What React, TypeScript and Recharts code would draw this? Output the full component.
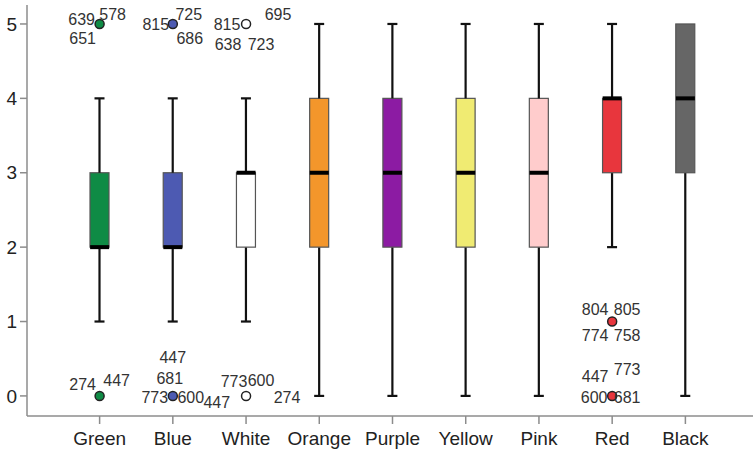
import { ComposedChart, Bar, Scatter, XAxis, YAxis } from 'recharts';

const categories = ['Green', 'Blue', 'White', 'Orange', 'Purple', 'Yellow', 'Pink', 'Red', 'Black'];
const mins = [1, 1, 1, 0, 0, 0, 0, 2, 0];
const q1s = [2, 2, 2, 2, 2, 2, 2, 3, 3];
const medians = [2, 2, 3, 3, 3, 3, 3, 4, 4];
const q3s = [3, 3, 3, 4, 4, 4, 4, 4, 5];
const maxes = [4, 4, 4, 5, 5, 5, 5, 5, 5];
const upperOutliers: (number | null)[] = [5, 5, 5, null, null, null, null, 1, null];
const lowerOutliers: (number | null)[] = [0, 0, 0, null, null, null, null, 0, null];
const upperCaseIds: string[][] = [
    ['639', '578', '651'],
    ['815', '725', '686'],
    ['815', '695', '638', '723'],
    [], [], [], [],
    ['804', '805', '774', '758'],
    [],
];
const lowerCaseIds: string[][] = [
    ['274', '447'],
    ['447', '681', '773', '600', '447'],
    ['773', '600', '274'],
    [], [], [], [],
    ['447', '773', '600', '681'],
    [],
];
const yTicks = [0, 1, 2, 3, 4, 5];

const boxColors = ['#0f8b45', '#4d5ab2', '#ffffff', '#f3962b', '#8c1ba3', '#f0eb72', '#ffcccc', '#e8363d', '#666666'];

// where each case label sits relative to its point (dx, dy), same order as the ids
const upperLabelPos: number[][][] = [
    [[-18, -5], [13, -10], [-17, 14]],
    [[-17, 0], [16, -10], [17, 14]],
    [[-19, 0], [32, -10], [-18, 20], [15, 20]],
    [], [], [], [],
    [[-17, -12], [15, -12], [-17, 14], [15, 14]],
    [],
];
const lowerLabelPos: number[][][] = [
    [[-17, -12], [17, -16]],
    [[0, -39], [-3, -18], [-18, 1], [18, 1], [44, 6]],
    [[-12, -15], [15, -16], [41, 1]],
    [], [], [], [],
    [[-17, -20], [15, -27], [-18, 1], [15, 1]],
    [],
];

const FONT = '"Liberation Sans", Arial, sans-serif';
const BOX_W = 19;

const rows = categories.map((name, i) => ({
    name,
    idx: i,
    base: mins[i],
    lowWhisker: q1s[i] - mins[i],
    box: q3s[i] - q1s[i],
    highWhisker: maxes[i] - q3s[i],
    median: medians[i],
    upper: upperOutliers[i],
    lower: lowerOutliers[i],
}));

const LowWhisker = (props: any) => {
    const { x, y, width, height } = props;
    if (!height || height <= 0) return <g />;
    const cx = x + width / 2;
    return (
        <g>
            <line x1={cx} y1={y} x2={cx} y2={y + height} stroke="#111" strokeWidth={2.2} />
            <line x1={cx - 5} y1={y + height} x2={cx + 5} y2={y + height} stroke="#111" strokeWidth={2.2} />
        </g>
    );
};

const HighWhisker = (props: any) => {
    const { x, y, width, height } = props;
    if (!height || height <= 0) return <g />;
    const cx = x + width / 2;
    return (
        <g>
            <line x1={cx} y1={y} x2={cx} y2={y + height} stroke="#111" strokeWidth={2.2} />
            <line x1={cx - 5} y1={y} x2={cx + 5} y2={y} stroke="#111" strokeWidth={2.2} />
        </g>
    );
};

const BoxShape = (props: any) => {
    const { x, y, width, height, payload } = props;
    if (!height || height <= 0) return <g />;
    return (
        <rect x={x} y={y} width={width} height={height} fill={boxColors[payload.idx]} stroke="#555" strokeWidth={1.2} />
    );
};

const MedianMark = (props: any) => {
    const { cx, cy } = props;
    if (cx == null || cy == null) return <g />;
    return <line x1={cx - BOX_W / 2} y1={cy} x2={cx + BOX_W / 2} y2={cy} stroke="#000" strokeWidth={4} />;
};

const makeOutlier = (key: 'upper' | 'lower', ids: string[][], pos: number[][][]) => (props: any) => {
    const { cx, cy, payload } = props;
    if (cx == null || cy == null || payload[key] == null) return <g />;
    const i = payload.idx;
    return (
        <g>
            <circle cx={cx} cy={cy} r={4.5} fill={boxColors[i]} stroke="#222" strokeWidth={1.5} />
            {ids[i].map((id, k) => (
                <text
                    key={k}
                    x={cx + pos[i][k][0]}
                    y={cy + pos[i][k][1]}
                    dy="0.35em"
                    textAnchor="middle"
                    fontSize={16}
                    fontFamily={FONT}
                    fill="#333"
                >
                    {id}
                </text>
            ))}
        </g>
    );
};

const UpperOutlier = makeOutlier('upper', upperCaseIds, upperLabelPos);
const LowerOutlier = makeOutlier('lower', lowerCaseIds, lowerLabelPos);

export default function App() {
    return (
        <div style={{ position: 'absolute', left: 0, top: 0, width: 753, height: 452, background: '#fff' }}>
            <ComposedChart width={753} height={452} data={rows} margin={{ top: 5, right: 0, bottom: 0, left: 0 }}>
                <XAxis
                    dataKey="name"
                    interval={0}
                    padding={{ left: 36, right: 31 }}
                    height={36}
                    axisLine={{ stroke: '#8c8c8c', strokeWidth: 1.5 }}
                    tickLine={{ stroke: '#8c8c8c', strokeWidth: 1.5 }}
                    tickSize={8}
                    tickMargin={8}
                    tick={{ fill: '#222', fontSize: 19, fontFamily: FONT }}
                />
                <YAxis
                    type="number"
                    width={27}
                    domain={[-0.27, 5.255]}
                    allowDataOverflow
                    ticks={yTicks}
                    axisLine={{ stroke: '#8c8c8c', strokeWidth: 1.5 }}
                    tickLine={{ stroke: '#8c8c8c', strokeWidth: 1.5 }}
                    tickSize={7}
                    tickMargin={3}
                    tick={{ fill: '#222', fontSize: 19, fontFamily: FONT }}
                />
                <Bar dataKey="base" stackId="b" barSize={BOX_W} fill="none" isAnimationActive={false} />
                <Bar dataKey="lowWhisker" stackId="b" barSize={BOX_W} shape={LowWhisker} isAnimationActive={false} />
                <Bar dataKey="box" stackId="b" barSize={BOX_W} shape={BoxShape} isAnimationActive={false} />
                <Bar dataKey="highWhisker" stackId="b" barSize={BOX_W} shape={HighWhisker} isAnimationActive={false} />
                <Scatter dataKey="median" shape={MedianMark} isAnimationActive={false} />
                <Scatter dataKey="upper" shape={UpperOutlier} isAnimationActive={false} />
                <Scatter dataKey="lower" shape={LowerOutlier} isAnimationActive={false} />
            </ComposedChart>
        </div>
    );
}
